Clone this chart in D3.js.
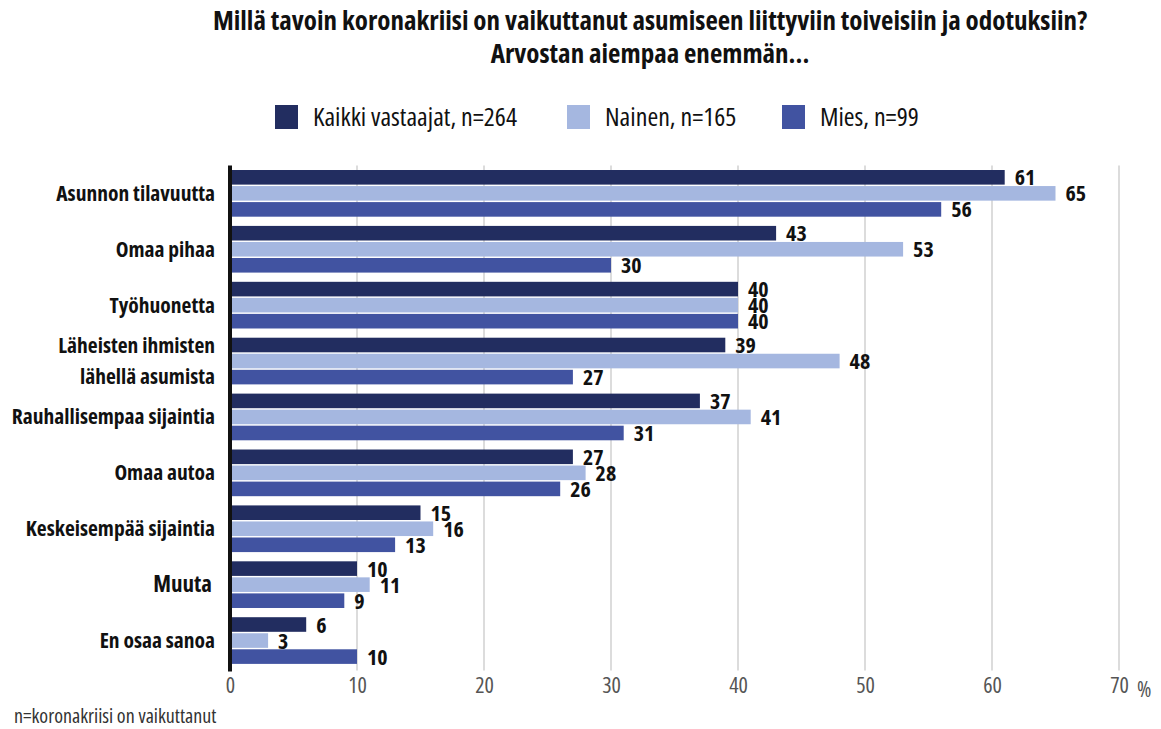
<!DOCTYPE html>
<html>
<head>
<meta charset="utf-8">
<script src="https://cdn.jsdelivr.net/npm/d3@7"></script>
<style>
  html, body { margin: 0; padding: 0; background: #ffffff; }
  svg { display: block; }
  text { font-family: "Open Sans", "Roboto", sans-serif; font-stretch: condensed; }
</style>
</head>
<body>
<svg id="chart" width="1161" height="729"></svg>
<script>
// Survey answers: share of respondents (%) per category and group
const categories = [
  ["Asunnon tilavuutta"],
  ["Omaa pihaa"],
  ["Työhuonetta"],
  ["Läheisten ihmisten", "lähellä asumista"],
  ["Rauhallisempaa sijaintia"],
  ["Omaa autoa"],
  ["Keskeisempää sijaintia"],
  ["Muuta"],
  ["En osaa sanoa"]
];
const seriesNames = ["Kaikki vastaajat, n=264", "Nainen, n=165", "Mies, n=99"];
const kaikki = [61, 43, 40, 39, 37, 27, 15, 10, 6];
const nainen = [65, 53, 40, 48, 41, 28, 16, 11, 3];
const mies   = [56, 30, 40, 27, 31, 26, 13, 9, 10];
const tickValues = [0, 10, 20, 30, 40, 50, 60, 70];
const colors = ["#222d60", "#a5b7e0", "#4153a1"];

const titleLines = [
  "Millä tavoin koronakriisi on vaikuttanut asumiseen liittyviin toiveisiin ja odotuksiin?",
  "Arvostan aiempaa enemmän..."
];
const footnote = "n=koronakriisi on vaikuttanut";

const series = [kaikki, nainen, mies];
const svg = d3.select("#chart");

const plotLeft = 230, plotRight = 1119, plotTop = 165.4, plotBottom = 668.5;

const x = d3.scaleLinear().domain([0, 70]).range([plotLeft, plotRight]);
const y = d3.scaleBand().domain(d3.range(categories.length)).range([plotTop, plotBottom]).paddingInner(0.165).paddingOuter(0.0825);
const sub = d3.scaleBand().domain(d3.range(series.length)).range([0, y.bandwidth()]).paddingInner(0.09);

// Title
svg.append("g").selectAll("text").data(titleLines).join("text")
  .attr("x", 650).attr("y", (d, i) => 30 + i * 33)
  .attr("text-anchor", "middle")
  .attr("font-size", 27).attr("font-weight", "bold").attr("fill", "#111")
  .text(d => d);

// Legend
const legendX = [275, 567, 782];
const legend = svg.append("g").selectAll("g").data(seriesNames).join("g")
  .attr("transform", (d, i) => `translate(${legendX[i]},105)`);
legend.append("rect").attr("width", 23).attr("height", 24).attr("fill", (d, i) => colors[i]);
legend.append("text").attr("x", 38).attr("y", 21).attr("font-size", 26).attr("fill", "#111").text(d => d);

// Gridlines
svg.append("g").selectAll("line").data(tickValues.slice(1)).join("line")
  .attr("x1", d => x(d)).attr("x2", d => x(d))
  .attr("y1", plotTop).attr("y2", plotBottom + 2)
  .attr("stroke", "#dcdcdc").attr("stroke-width", 2);

// Bars
const groups = svg.append("g").selectAll("g").data(categories).join("g")
  .attr("transform", (d, i) => `translate(0,${y(i)})`);

groups.each(function (d, ci) {
  const g = d3.select(this);
  const vals = series.map(s => s[ci]);
  g.selectAll("rect").data(vals).join("rect")
    .attr("x", x(0))
    .attr("y", (v, si) => sub(si))
    .attr("width", v => x(v) - x(0))
    .attr("height", sub.bandwidth())
    .attr("fill", (v, si) => colors[si]);
  g.selectAll("text.val").data(vals).join("text")
    .attr("class", "val")
    .attr("x", v => x(v) + 10)
    .attr("y", (v, si) => sub(si) + sub.bandwidth() / 2 + 8)
    .attr("font-size", 22).attr("font-weight", "bold").attr("fill", "#111")
    .text(v => v);
});

// Category labels
groups.each(function (lines, ci) {
  const g = d3.select(this);
  const isMuuta = lines[0] === "Muuta";
  const fs = isMuuta ? 23 : 21.5;
  const cy = y.bandwidth() / 2;
  const lh = 31;
  g.selectAll("text.cat").data(lines).join("text")
    .attr("class", "cat")
    .attr("x", isMuuta ? 212 : 215)
    .attr("y", (t, li) => cy + 7.5 + (li - (lines.length - 1) / 2) * lh)
    .attr("text-anchor", "end")
    .attr("font-size", fs).attr("font-weight", "bold").attr("fill", "#111")
    .text(t => t);
});

// Value axis
const axis = svg.append("g").attr("transform", `translate(0,${plotBottom})`)
  .call(d3.axisBottom(x).tickValues(tickValues).tickSize(0).tickPadding(9).tickFormat(d3.format("d")));
axis.select(".domain").remove();
axis.selectAll("text").attr("font-size", 22).attr("fill", "#555")
  .style("font-family", '"Open Sans", sans-serif').style("font-stretch", "condensed");
svg.append("text").attr("x", x(70) + 18).attr("y", plotBottom + 28)
  .attr("font-size", 22).attr("fill", "#555").text("%");

// Category axis line
svg.append("line").attr("x1", plotLeft).attr("x2", plotLeft)
  .attr("y1", plotTop).attr("y2", plotBottom + 3)
  .attr("stroke", "#111").attr("stroke-width", 4);

// Footnote
svg.append("text").attr("x", 14).attr("y", 723)
  .attr("font-size", 20).attr("fill", "#333").text(footnote);
</script>
</body>
</html>
